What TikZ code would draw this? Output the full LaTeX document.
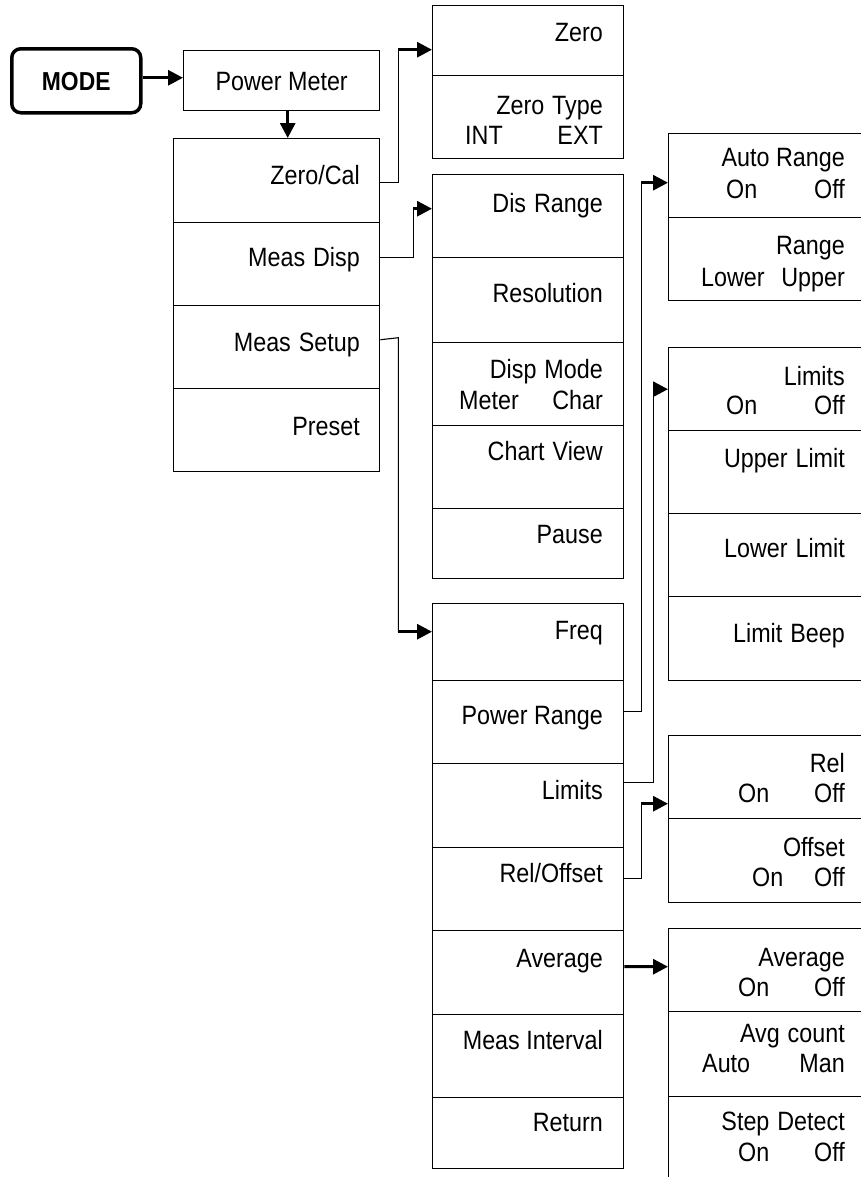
\documentclass[tikz,border=0pt]{standalone}
\usepackage{fontspec}
\setmainfont[FakeStretch=0.88]{Liberation Sans}
\usetikzlibrary{arrows.meta}
\newcommand\wsp{\hspace{0.3em}}
\begin{document}
\begin{tikzpicture}[x=1bp,y=-1bp,
  cell/.style 2 args={draw, line width=1.4bp, anchor=north west, inner sep=0pt, minimum width=#1, minimum height=#2},
  lbl/.style={inner sep=0pt, text height=19bp, text depth=0pt, font=\fontsize{26.5bp}{30bp}\selectfont},
  conn/.style={line width=1.1bp},
  arr/.style={line width=3bp, -{Triangle[length=15bp,width=15bp]}}]
\useasboundingbox (0,0) rectangle (861,1177);
\clip (0,0) rectangle (861,1177);

% MODE and Power Meter
\node[draw, line width=3.5bp, rounded corners=9bp, anchor=north west, minimum width=129bp, minimum height=64bp, inner sep=0pt,
      lbl, font=\fontsize{26bp}{30bp}\selectfont\bfseries] (mode) at (10,47) {MODE};
\node[cell={196bp}{60bp}, lbl] (pm) at (183,50) {Power Meter};

% main menu
\node[cell={206bp}{84bp}] (zc) at (173,138) {};
\node[cell={206bp}{83bp}] (md) at (173,222) {};
\node[cell={206bp}{83bp}] (ms) at (173,305) {};
\node[cell={206bp}{83bp}] (ps) at (173,388) {};
\node[lbl,anchor=east] (l-zc) at (360,175) {Zero/Cal};
\node[lbl,anchor=east] (l-md) at (360,257) {Meas\wsp Disp};
\node[lbl,anchor=east] (l-ms) at (360,342) {Meas\wsp Setup};
\node[lbl,anchor=east] (l-ps) at (360,426) {Preset};

% Zero box
\node[cell={191bp}{70bp}] (zb1) at (432,5) {};
\node[cell={191bp}{83bp}] (zb2) at (432,75) {};
\node[lbl,anchor=east] (l-z1) at (603,32) {Zero};
\node[lbl,anchor=east] (l-z2) at (603,105) {Zero\wsp Type};
\node[lbl,anchor=west] (l-z3) at (465,135) {INT};
\node[lbl,anchor=east] (l-z4) at (603,135) {EXT};

% Display box
\node[cell={191bp}{83bp}] (dr1) at (432,174) {};
\node[cell={191bp}{85bp}] (dr2) at (432,257) {};
\node[cell={191bp}{83bp}] (dr3) at (432,342) {};
\node[cell={191bp}{83bp}] (dr4) at (432,425) {};
\node[cell={191bp}{70bp}] (dr5) at (432,508) {};
\node[lbl,anchor=east] (l-d1) at (603,203) {Dis\wsp Range};
\node[lbl,anchor=east] (l-d2) at (603,293) {Resolution};
\node[lbl,anchor=east] (l-d3) at (603,369) {Disp\wsp Mode};
\node[lbl,anchor=west] (l-d4) at (459,400) {Meter};
\node[lbl,anchor=east] (l-d5) at (603,400) {Char};
\node[lbl,anchor=east] (l-d6) at (603,451) {Chart\wsp View};
\node[lbl,anchor=east] (l-d7) at (603,534) {Pause};

% Measure setup box
\node[cell={191bp}{77bp}] (f1) at (432,603) {};
\node[cell={191bp}{83bp}] (f2) at (432,680) {};
\node[cell={191bp}{84bp}] (f3) at (432,763) {};
\node[cell={191bp}{83bp}] (f4) at (432,847) {};
\node[cell={191bp}{84bp}] (f5) at (432,930) {};
\node[cell={191bp}{83bp}] (f6) at (432,1014) {};
\node[cell={191bp}{71bp}] (f7) at (432,1097) {};
\node[lbl,anchor=east] (l-f1) at (603,630) {Freq};
\node[lbl,anchor=east] (l-f2) at (603,715) {Power Range};
\node[lbl,anchor=east] (l-f3) at (603,790) {Limits};
\node[lbl,anchor=east] (l-f4) at (603,873) {Rel/Offset};
\node[lbl,anchor=east] (l-f5) at (603,958) {Average};
\node[lbl,anchor=east] (l-f6) at (603,1040) {Meas Interval};
\node[lbl,anchor=east] (l-f7) at (603,1122) {Return};

% Auto range box
\node[cell={200bp}{84bp}] (ar1) at (668,133) {};
\node[cell={200bp}{83bp}] (ar2) at (668,217) {};
\node[lbl,anchor=east] (l-a1) at (845,157) {Auto Range};
\node[lbl,anchor=west] (l-a2) at (726,189) {On};
\node[lbl,anchor=east] (l-a3) at (845,189) {Off};
\node[lbl,anchor=east] (l-a4) at (845,245) {Range};
\node[lbl,anchor=west] (l-a5) at (701,277) {Lower};
\node[lbl,anchor=east] (l-a6) at (845,277) {Upper};

% Limits box
\node[cell={200bp}{83bp}] (lm1) at (668,347) {};
\node[cell={200bp}{83bp}] (lm2) at (668,430) {};
\node[cell={200bp}{83bp}] (lm3) at (668,513) {};
\node[cell={200bp}{84bp}] (lm4) at (668,596) {};
\node[lbl,anchor=east] (l-m1) at (845,376) {Limits};
\node[lbl,anchor=west] (l-m2) at (726,405) {On};
\node[lbl,anchor=east] (l-m3) at (845,405) {Off};
\node[lbl,anchor=east] (l-m4) at (845,458) {Upper\wsp Limit};
\node[lbl,anchor=east] (l-m5) at (845,548) {Lower\wsp Limit};
\node[lbl,anchor=east] (l-m6) at (845,633) {Limit\wsp Beep};

% Rel box
\node[cell={200bp}{83bp}] (rl1) at (668,735) {};
\node[cell={200bp}{84bp}] (rl2) at (668,818) {};
\node[lbl,anchor=east] (l-r1) at (845,763) {Rel};
\node[lbl,anchor=west] (l-r2) at (738,793) {On};
\node[lbl,anchor=east] (l-r3) at (845,793) {Off};
\node[lbl,anchor=east] (l-r4) at (845,847) {Offset};
\node[lbl,anchor=west] (l-r5) at (752,877) {On};
\node[lbl,anchor=east] (l-r6) at (845,877) {Off};

% Average box
\node[cell={200bp}{83bp}] (av1) at (668,928) {};
\node[cell={200bp}{85bp}] (av2) at (668,1011) {};
\node[cell={200bp}{100bp}] (av3) at (668,1096) {};
\node[lbl,anchor=east] (l-v1) at (845,957) {Average};
\node[lbl,anchor=west] (l-v2) at (738,987) {On};
\node[lbl,anchor=east] (l-v3) at (845,987) {Off};
\node[lbl,anchor=east] (l-v4) at (845,1033) {Avg\wsp count};
\node[lbl,anchor=west] (l-v5) at (702,1063) {Auto};
\node[lbl,anchor=east] (l-v6) at (845,1063) {Man};
\node[lbl,anchor=east] (l-v7) at (845,1121) {Step\wsp Detect};
\node[lbl,anchor=west] (l-v8) at (738,1152) {On};
\node[lbl,anchor=east] (l-v9) at (845,1152) {Off};

% connectors
\draw[arr] ([yshift=3bp]mode.east) -- ([yshift=3bp]mode.east -| pm.west);
\draw[arr] ([xshift=6bp]pm.south) -- ([xshift=6bp]pm.south |- zc.north);

\coordinate (zs) at ([yshift=-2bp]zc.east);
\coordinate (zt) at ([yshift=-9bp]zb1.west);
\draw[conn] (zs) -- ++(18,0) coordinate (zk) -- (zk |- zt);
\draw[arr] (zk |- zt) -- (zt);

\coordinate (ds) at ([yshift=6.5bp]md.east);
\coordinate (dt) at ([yshift=7.5bp]dr1.west);
\draw[conn] (ds) -- ++(33,0) coordinate (dk) -- (dk |- dt);
\draw[arr] (dk |- dt) -- (dt);

\coordinate (ss) at ([yshift=7.5bp]ms.east);
\coordinate (st) at ([yshift=10.5bp]f1.west);
\draw[conn] (ss) -- ++(18,-2) coordinate (sk) -- (sk |- st);
\draw[arr] (sk |- st) -- (st);

\coordinate (prs) at ([yshift=10.5bp]f2.east);
\coordinate (prt) at ([yshift=-7bp]ar1.west);
\draw[conn] (prs) -- ++(17,0) coordinate (prk) -- (prk |- prt);
\draw[arr] (prk |- prt) -- (prt);

\coordinate (lms) at ([yshift=23bp]f3.east);
\coordinate (lmt) at (lm1.west);
\draw[conn] (lms) -- ++(29,0) coordinate (lmk) -- (lmk |- lmt);
\draw[arr] (lmk |- lmt) -- (lmt);

\coordinate (rls) at ([yshift=10.5bp]f4.east);
\coordinate (rlt) at ([yshift=-26.5bp]rl1.west);
\draw[conn] (rls) -- ++(17,0) coordinate (rlk) -- (rlk |- rlt);
\draw[arr] (rlk |- rlt) -- (rlt);

\draw[arr] ([yshift=6bp]f5.east) -- ([yshift=3.5bp]av1.west);
\end{tikzpicture}
\end{document}
